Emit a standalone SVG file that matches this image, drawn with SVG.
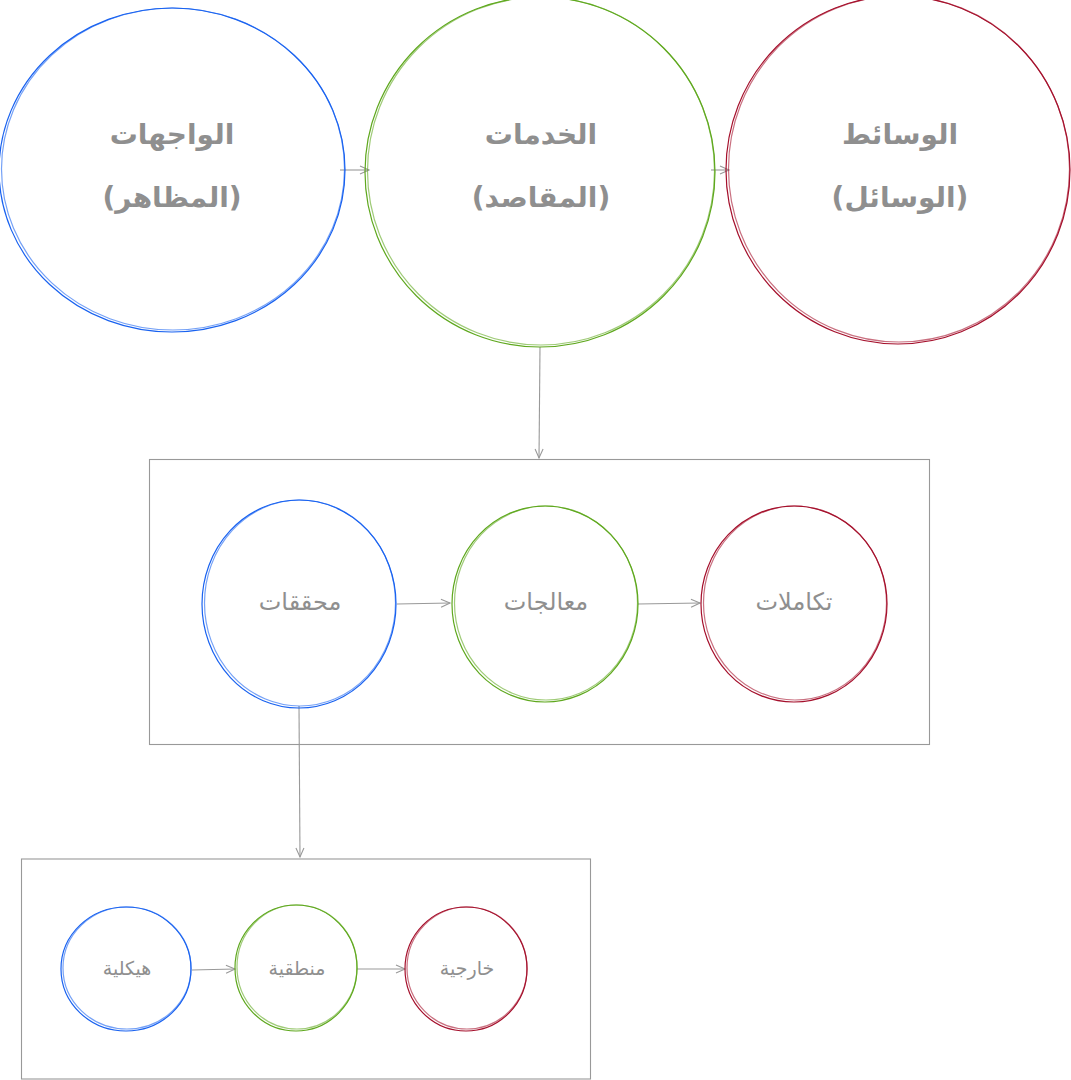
<svg xmlns="http://www.w3.org/2000/svg" width="1071" height="1080" viewBox="0 0 1071 1080">
<style>
.b{fill:none;stroke:#1962f0;stroke-width:1.2}
.g{fill:none;stroke:#5fa81e;stroke-width:1.2}
.r{fill:none;stroke:#a5102c;stroke-width:1.2}
.box{fill:none;stroke:#999;stroke-width:1.1}
.c{fill:none;stroke:#999;stroke-width:1.1}
.t{font-family:"DejaVu Sans","Noto Sans",sans-serif;fill:#8f8f8f;text-anchor:middle;direction:rtl}
.big{font-size:28px;font-weight:bold}
.mid{font-size:24px}
.sm{font-size:19px}
</style>
<defs>
<marker id="a" markerWidth="12" markerHeight="10" refX="10" refY="5" orient="auto" markerUnits="userSpaceOnUse">
<path d="M1,1 L10,5 L1,9" fill="none" stroke="#999" stroke-width="1.1"/>
</marker>
</defs>
<rect width="1071" height="1080" fill="#fff"/>
<g id="boxes">
<rect class="box" x="149.5" y="459.5" width="780" height="285"/>
<rect class="box" x="21.5" y="859" width="569" height="220"/>
</g>
<g id="connectors">
<path class="c" d="M340,170 L369,170" marker-end="url(#a)"/>
<path class="c" d="M711,170 L729,170" marker-end="url(#a)"/>
<path class="c" d="M540,347 L539,458" marker-end="url(#a)"/>
<path class="c" d="M397,604 L450,603" marker-end="url(#a)"/>
<path class="c" d="M638,604 L700,603" marker-end="url(#a)"/>
<path class="c" d="M299,706 L300,857" marker-end="url(#a)"/>
<path class="c" d="M192,970 L235,969" marker-end="url(#a)"/>
<path class="c" d="M357,969 L405,969" marker-end="url(#a)"/>
</g>
<g id="n1">
<ellipse class="b" cx="172" cy="170" rx="173" ry="162"/>
<ellipse class="b" cx="173" cy="169" rx="171.5" ry="161" opacity="0.6"/>
<text class="t big" x="172" y="144">الواجهات</text>
<text class="t big" x="172" y="207">(المظاهر)</text>
</g>
<g id="n2">
<ellipse class="g" cx="540" cy="172" rx="175" ry="175"/>
<ellipse class="g" cx="541" cy="171" rx="173.5" ry="174" opacity="0.6"/>
<text class="t big" x="541" y="144">الخدمات</text>
<text class="t big" x="541" y="207">(المقاصد)</text>
</g>
<g id="n3">
<ellipse class="r" cx="898" cy="170" rx="172" ry="174"/>
<ellipse class="r" cx="899" cy="169" rx="170.5" ry="173" opacity="0.6"/>
<text class="t big" x="900" y="144">الوسائط</text>
<text class="t big" x="900" y="207">(الوسائل)</text>
</g>
<g id="n4">
<ellipse class="b" cx="299" cy="604" rx="97" ry="104"/>
<ellipse class="b" cx="300" cy="603" rx="95.5" ry="103" opacity="0.6"/>
<text class="t mid" x="300" y="610">محققات</text>
</g>
<g id="n5">
<ellipse class="g" cx="545" cy="604" rx="93" ry="98"/>
<ellipse class="g" cx="546" cy="603" rx="91.5" ry="97" opacity="0.6"/>
<text class="t mid" x="546" y="610">معالجات</text>
</g>
<g id="n6">
<ellipse class="r" cx="794" cy="604" rx="93" ry="98"/>
<ellipse class="r" cx="795" cy="603" rx="91.5" ry="97" opacity="0.6"/>
<text class="t mid" x="794" y="610">تكاملات</text>
</g>
<g id="n7">
<ellipse class="b" cx="126" cy="969" rx="65" ry="62"/>
<ellipse class="b" cx="127" cy="968" rx="64" ry="61" opacity="0.6"/>
<text class="t sm" x="127" y="975">هيكلية</text>
</g>
<g id="n8">
<ellipse class="g" cx="296" cy="968" rx="61" ry="63"/>
<ellipse class="g" cx="297" cy="967" rx="60" ry="62" opacity="0.6"/>
<text class="t sm" x="297" y="975">منطقية</text>
</g>
<g id="n9">
<ellipse class="r" cx="466" cy="969" rx="61" ry="62"/>
<ellipse class="r" cx="467" cy="968" rx="60" ry="61" opacity="0.6"/>
<text class="t sm" x="467" y="975">خارجية</text>
</g>
</svg>
